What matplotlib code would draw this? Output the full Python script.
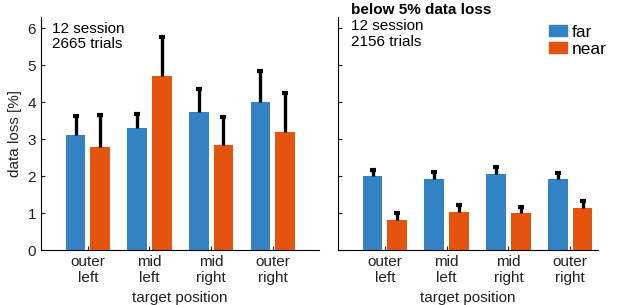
import matplotlib.pyplot as plt
import numpy as np
from matplotlib.patches import Patch

plt.rcParams['font.family'] = ['Liberation Sans', 'DejaVu Sans']
plt.rcParams['font.size'] = 11

positions = ['outer\nleft', 'mid\nleft', 'mid\nright', 'outer\nright']

# all trials
far_all = [3.10, 3.30, 3.73, 4.00]
far_all_err = [0.52, 0.37, 0.62, 0.85]
near_all = [2.80, 4.72, 2.83, 3.20]
near_all_err = [0.86, 1.03, 0.77, 1.05]

# sessions below 5% data loss
far_low = [2.00, 1.92, 2.05, 1.92]
far_low_err = [0.16, 0.20, 0.20, 0.17]
near_low = [0.81, 1.04, 0.99, 1.15]
near_low_err = [0.18, 0.18, 0.18, 0.18]

blue = '#3383C4'
orange = '#E5540F'

def upErr(ax, x, y, err):
        # one-sided error bar with a small cap on top only
        top = np.array(y) + np.array(err)
        ax.vlines(x, y, top, color='black', lw=2.4)
        ax.plot(x, top, ls='none', marker='_', ms=5, mew=3, color='black')

def bars(ax, far, farErr, near, nearErr):
        x = np.arange(1, len(far) + 1)
        w = 0.32
        ax.bar(x - 0.2, far, width=w, color=blue)
        ax.bar(x + 0.2, near, width=w, color=orange)
        upErr(ax, x - 0.2, far, farErr)
        upErr(ax, x + 0.2, near, nearErr)
        ax.set_xticks(x, labels=positions)
        ax.set_ylim(0, 6.3)
        ax.set_yticks(range(0, 7))
        ax.spines['top'].set_visible(False)
        ax.spines['right'].set_visible(False)
        ax.tick_params(direction='in', length=3, colors='#222222', labelsize=11)
        ax.set_xlabel('target position', color='#222222')

fig = plt.figure(figsize=(6.17, 3.05), dpi=100)
ax1 = fig.add_axes([41/617, 0.180, 278/617, 0.764])
ax2 = fig.add_axes([338/617, 0.180, 260/617, 0.764])

bars(ax1, far_all, far_all_err, near_all, near_all_err)
ax1.set_xlim(0.24, 4.75)
ax1.set_ylabel('data loss [%]', color='#222222')
ax1.text(0.04, 0.98, '12 session\n2665 trials', transform=ax1.transAxes,
         va='top', ha='left', linespacing=1.1)

bars(ax2, far_low, far_low_err, near_low, near_low_err)
ax2.set_xlim(0.24, 4.45)
ax2.tick_params(axis='y', labelleft=False)
ax2.text(0.05, 1.0, 'below 5% data loss', transform=ax2.transAxes,
         va='bottom', ha='left', fontweight='bold')
ax2.text(0.05, 0.99, '12 session\n2156 trials', transform=ax2.transAxes,
         va='top', ha='left', linespacing=1.1)
handles = [Patch(color=blue, label='far'), Patch(color=orange, label='near')]
ax2.legend(handles=handles, loc='upper right', bbox_to_anchor=(1.08, 1.02), frameon=False,
           fontsize=12.5, handlelength=1.0, handleheight=0.55, handletextpad=0.3,
           labelspacing=0.12, borderpad=0.2)

fig.savefig('out.png', dpi=100)
